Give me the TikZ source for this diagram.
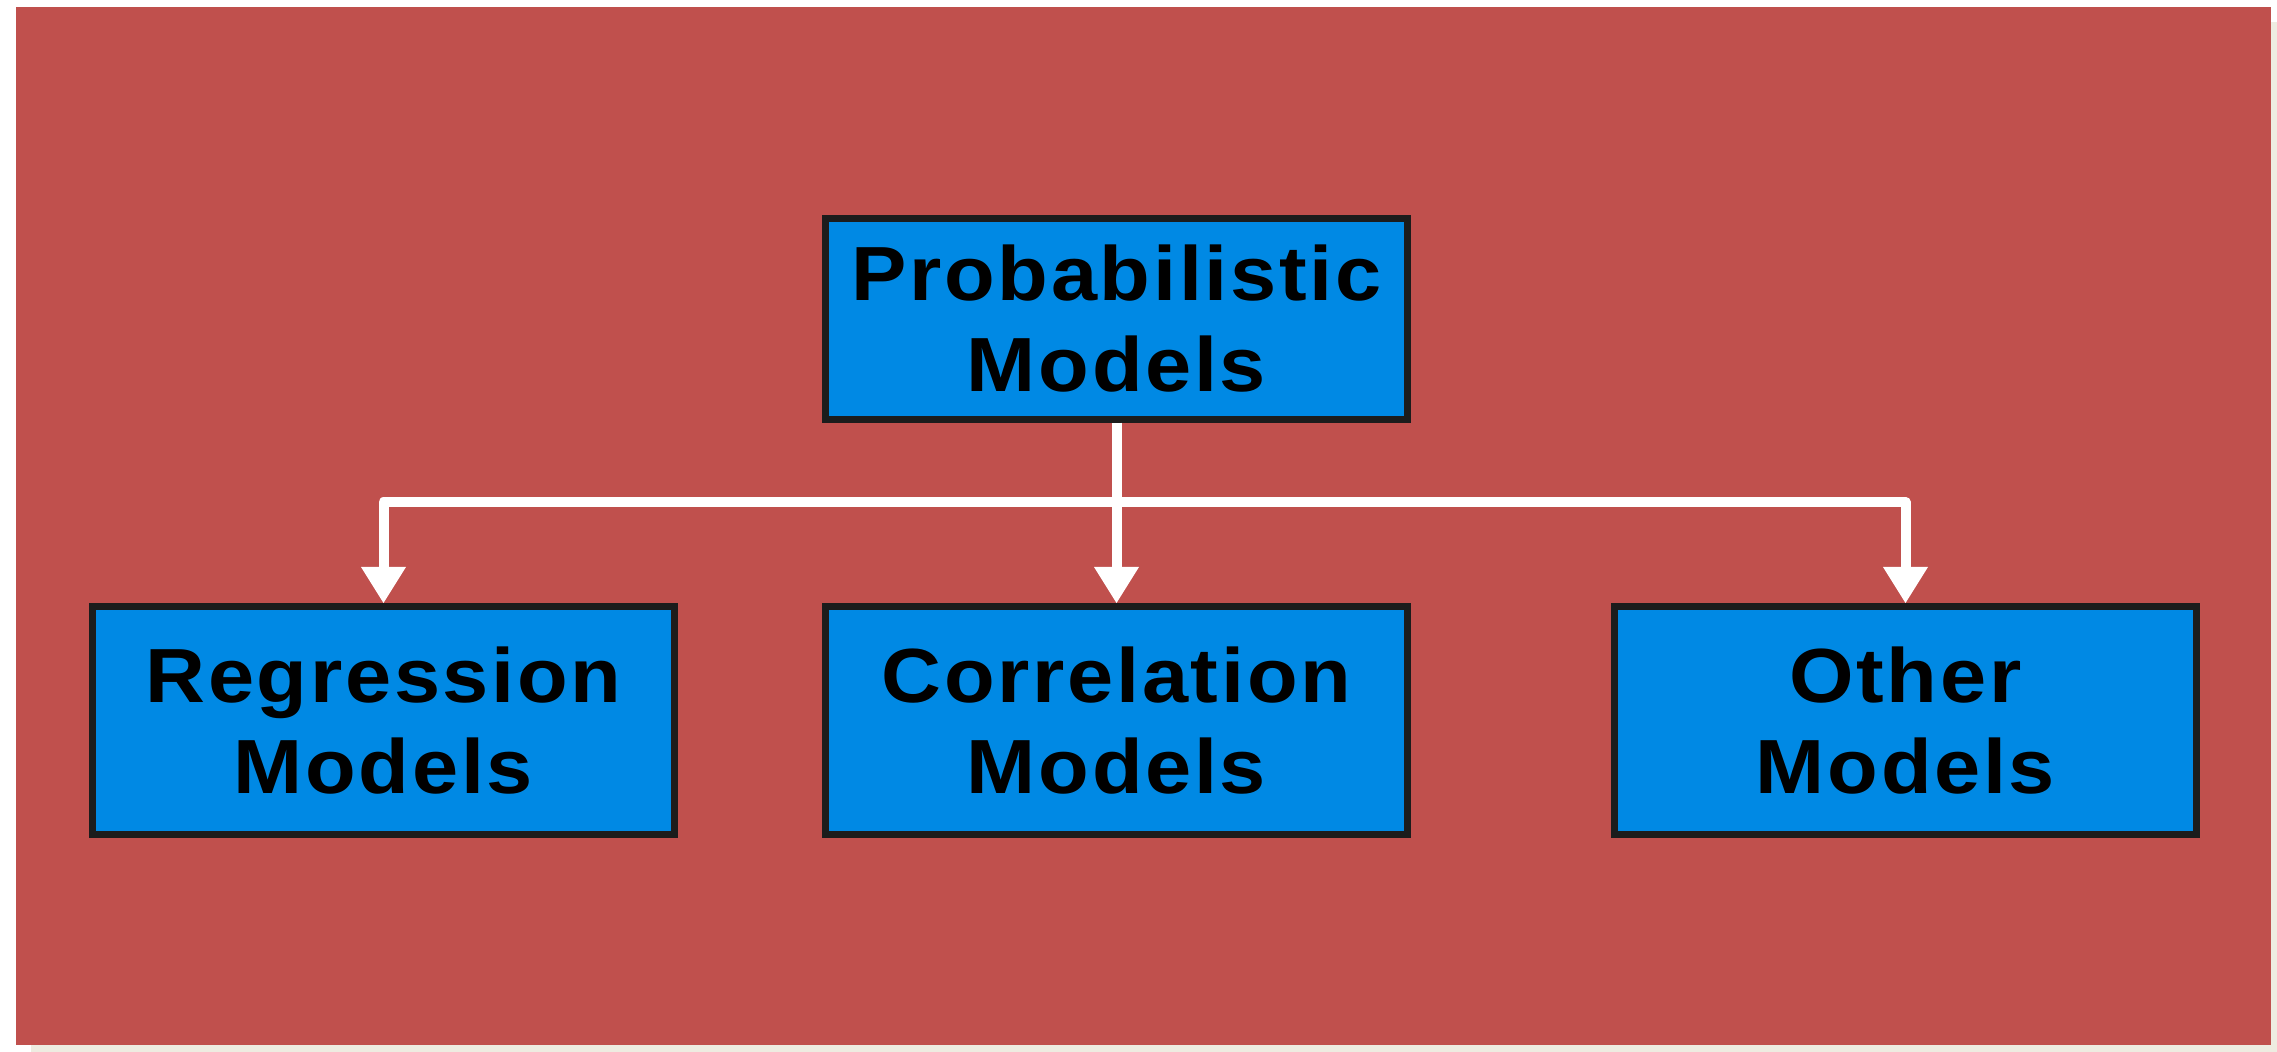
\documentclass[tikz,border=0pt]{standalone}
\usepackage{fontspec}
\usepackage{tikz}
\usetikzlibrary{positioning, arrows.meta}
\newfontfamily\modelfont[FakeStretch=1.08, LetterSpace=3.5]{Liberation Sans}

\definecolor{slidered}{RGB}{192,80,77}
\definecolor{slideshadow}{RGB}{238,236,225}
\definecolor{boxblue}{RGB}{0,137,228}
\definecolor{boxline}{RGB}{28,28,28}

\tikzset{
    model/.style={draw=boxline, fill=boxblue, line width=3.5pt, rectangle,
        minimum width=291pt, align=center, inner sep=0pt,
        font=\modelfont\bfseries\fontsize{38.4}{45.5}\selectfont},
    link/.style={draw=white, line width=5pt, line join=round,
        -{Triangle[width=22.5pt, length=18pt, line width=0pt]}}
}

\begin{document}
\begin{tikzpicture}[x=0.5pt, y=0.5pt]
    \useasboundingbox (0,0) rectangle (2277,1052);
    \clip (0,0) rectangle (2277,1052);
    % slide background
    \fill[slideshadow] (31,-20) rectangle (2300,1030);
    \fill[slidered] (16,7) rectangle (2271,1045);

    \node[model, minimum height=100.5pt] (top) at (1116.5,733) {Probabilistic\\Models};
    \node[model, minimum height=114pt] (corr) [below=90pt of top] {Correlation\\Models};
    \node[model, minimum height=114pt] (reg) [left=72pt of corr] {Regression\\Models};
    \node[model, minimum height=114pt] (other) [right=100pt of corr] {Other\\Models};

    \draw[link] (top.south) -- ++(0,-79) -| (reg.north);
    \draw[link] (top.south) -- (corr.north);
    \draw[link] (top.south) -- ++(0,-79) -| (other.north);
\end{tikzpicture}
\end{document}
